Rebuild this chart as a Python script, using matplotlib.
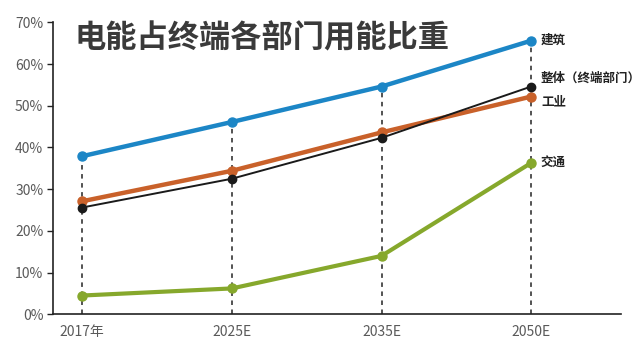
import matplotlib
matplotlib.use("Agg")
import matplotlib.pyplot as plt
from matplotlib.ticker import FuncFormatter

plt.rcParams['font.family'] = ['Noto Sans CJK SC', 'DejaVu Sans']

categories = ["2017年", "2025E", "2035E", "2050E"]
building = [37.9, 46.1, 54.6, 65.6]
overall = [25.6, 32.5, 42.3, 54.6]
industry = [27.1, 34.4, 43.6, 52.2]
transport = [4.5, 6.2, 14.0, 36.3]
names = ["建筑", "整体（终端部门）", "工业", "交通"]

fig = plt.figure(figsize=(6.4, 3.58), dpi=100)
ax = fig.add_axes([53/640, 1-314.3/358, (621-53)/640, (314.3-22.3)/358])

x = list(range(len(categories)))
tops = [max(a, b, c, d) for a, b, c, d in zip(building, overall, industry, transport)]
for xi, t in zip(x, tops):
    ax.plot([xi, xi], [0, t], ls=(0, (2.5, 2.5)), color="#444444", lw=1.3, zorder=1)

ax.plot(x, building, color="#1c86c6", lw=3.2, marker="o", ms=6.5, zorder=3)
ax.plot(x, industry, color="#c9612a", lw=3.2, marker="o", ms=6.5, zorder=3)
ax.plot(x, overall, color="#1a1a1a", lw=1.4, marker="o", ms=6, zorder=4)
ax.plot(x, transport, color="#86a82c", lw=3.0, marker="o", ms=6.5, zorder=3)

label_y = [65.6, 56.5, 51.0, 36.3]
for n, yv in zip(names, label_y):
    ax.text(3.065, yv, n, fontsize=9, fontweight="bold", color="#222222",
            va="center", ha="left")

ax.set_xlim(-0.195, 3.6)
ax.set_ylim(0, 70)
ax.set_yticks(range(0, 71, 10))
ax.yaxis.set_major_formatter(FuncFormatter(lambda v, p: f"{int(v)}%"))
ax.set_xticks(x)
ax.set_xticklabels(categories)
ax.tick_params(axis="y", length=4, width=1, colors="#222222", labelcolor="#5a5a5a", labelsize=10, pad=3)
ax.tick_params(axis="x", length=0, labelcolor="#5a5a5a", labelsize=10, pad=8)
for s in ["top", "right"]:
    ax.spines[s].set_visible(False)
for s in ["left", "bottom"]:
    ax.spines[s].set_linewidth(1.2)
    ax.spines[s].set_color("#222222")

fig.text(75/640, 1-38/358, "电能占终端各部门用能比重", fontsize=22.5, fontweight="bold",
         color="#3a3a3a", va="center", ha="left")

fig.savefig("out.png", dpi=100)
